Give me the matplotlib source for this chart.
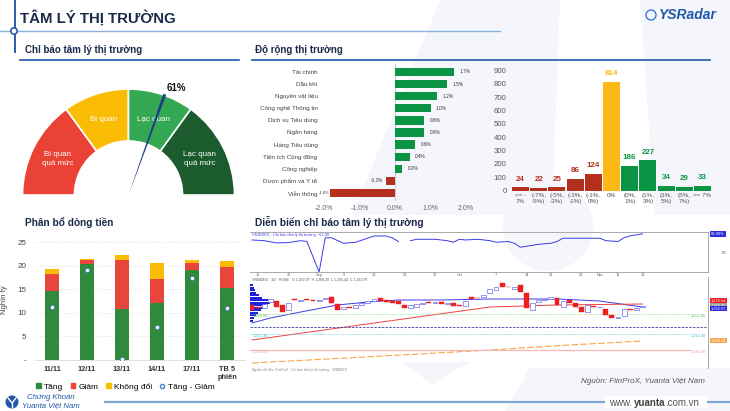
import matplotlib
matplotlib.use('Agg')
import matplotlib.pyplot as plt
import numpy as np
from matplotlib.patches import Wedge, Polygon, Rectangle, Circle, Patch
from matplotlib.lines import Line2D
import matplotlib.transforms as mtrans

plt.rcParams['font.family'] = ['Liberation Sans', 'DejaVu Sans']

# ---------------- data ----------------
gauge_value = 61
gauge_bounds = [0, 30, 50, 70, 100]
gauge_labels = ['Bi quan\nquá mức', 'Bi quan', 'Lạc quan', 'Lạc quan\nquá mức']

sectors = ['Tài chính', 'Dầu khí', 'Nguyên vật liệu', 'Công nghệ Thông tin',
           'Dịch vụ Tiêu dùng', 'Ngân hàng', 'Hàng Tiêu dùng', 'Tiện ích Cộng đồng',
           'Công nghiệp', 'Dược phẩm và Y tế', 'Viễn thông']
sector_change = [1.66, 1.46, 1.18, 1.00, 0.82, 0.82, 0.57, 0.42, 0.20, -0.25, -1.83]
sector_ticks = [-2, -1, 0, 1, 2]
sector_ticklabels = ['-2.0%', '-1.0%', '0.0%', '1.0%', '2.0%']

hist_bins = ['<= -\n7%', '(-7%,\n-5%)', '(-5%,\n-3%)', '(-3%,\n-1%)', '(-1%,\n0%)', '0%',
             '(0%,\n1%)', '(1%,\n3%)', '(3%,\n5%)', '(5%,\n7%)', '>= 7%']
hist_counts = [24, 22, 25, 86, 124, 814, 186, 227, 34, 29, 33]
hist_ticks = [0, 100, 200, 300, 400, 500, 600, 700, 800, 900]

sessions = ['11/11', '12/11', '13/11', '14/11', '17/11', 'TB 5\nphiên']
flow_up = [14.6, 20.3, 10.8, 12.1, 19.1, 15.3]
flow_down = [3.7, 1.0, 10.4, 5.1, 1.4, 4.4]
flow_flat = [1.0, 0.2, 1.2, 3.3, 0.7, 1.3]
flow_net = [11.2, 19.2, 0.3, 7.1, 17.4, 11.1]
flow_ticks = [0, 5, 10, 15, 20, 25]
flow_ticklabels = ['-', '5', '10', '15', '20', '25']

# sentiment indicator history (session index, value)
senti_t = [0, 2, 4, 6, 8, 9, 11, 12, 13, 15, 17, 20, 22, 23, 24, 25, 26, 27, 30, 32, 33, 34, 35,
           37, 39, 40, 42, 43, 44, 47, 49, 50, 51, 54, 57, 58, 60, 61, 62, 64]
senti_v = [57.5, 57.1, 55.8, 56.0, 57.1, 56.6, 39.0, 58.7, 58.8, 55.6, 56.2, 59.8, 59.8, 58.7, 56.6,
           np.nan, 57.1, 57.9, 57.9, 57.1, 56.2, 57.9, 57.5, 57.9, 57.1, 56.2, 56.6, 55.6, 53.3,
           55.0, 55.6, 56.6, 58.5, 58.5, 58.5, 57.1, 56.6, 58.8, 59.9, 61.0]
senti_dates = ['15', '22', 'Sep', '9', '16', '23', '30', 'Oct', '7', '14', '21', '28', 'Nov', '11', '18']
senti_date_t = [1, 6, 11, 15, 20, 25, 30, 34, 40, 45, 49, 54, 57, 60, 64]

# VN-Index candles
candle_open = [1270, 1266, 1264, 1276, 1278, 1270, 1260, 1281, 1279, 1281, 1280, 1279, 1281, 1286,
               1272, 1262, 1267, 1264, 1270, 1274, 1278, 1284, 1280, 1278, 1278, 1270, 1264, 1266,
               1272, 1276, 1274, 1276, 1272, 1274, 1270, 1268, 1286, 1284, 1286, 1294, 1300, 1314,
               1306, 1302, 1310, 1294, 1260, 1276, 1280, 1282, 1284, 1266, 1280, 1274, 1266, 1256,
               1268, 1266, 1262, 1250, 1244, 1248, 1262, 1260, 1266]
candle_close = [1260, 1264, 1272, 1282, 1266, 1256, 1274, 1279, 1281, 1279, 1279, 1281, 1283, 1274,
                1260, 1266, 1265, 1270, 1274, 1278, 1282, 1278, 1276, 1275, 1272, 1264, 1270, 1272,
                1274, 1274, 1276, 1272, 1274, 1268, 1268, 1278, 1282, 1283, 1290, 1302, 1306, 1306,
                1305, 1306, 1296, 1264, 1274, 1280, 1282, 1286, 1270, 1278, 1274, 1266, 1256, 1270,
                1266, 1267, 1250, 1244, 1246, 1262, 1261, 1264, 1268]
ma_blue_t = [0, 3, 8, 14, 19, 24, 31, 39, 50, 57, 64]
ma_blue_v = [1234, 1244, 1256, 1270, 1276, 1280, 1280, 1282, 1282, 1278, 1266]
ma_red_t = [0, 13, 26, 39, 50, 64]
ma_red_v = [1200, 1222, 1244, 1266, 1270, 1272]
ma_orange_t = [0, 20, 39, 52, 64]
ma_orange_v = [1154, 1167, 1180, 1190, 1198]
level_green, level_navy, level_cyan, level_pink = 1252, 1226, 1212, 1180
profile_levels = [1310, 1304, 1300, 1294, 1290, 1284, 1280, 1274, 1270, 1264, 1260, 1254, 1250, 1244, 1238]
profile_volume = [0.4, 0.6, 0.8, 1.0, 1.4, 2.0, 3.0, 3.3, 2.6, 2.2, 1.8, 1.2, 1.0, 0.6, 0.4]

# ---------------- figure ----------------
W, H = 730, 411
fig = plt.figure(figsize=(7.3, 4.11), dpi=100)
fig.patch.set_facecolor('white')


def box(x0, y0, x1, y1):
    return [x0 / W, 1 - y1 / H, (x1 - x0) / W, (y1 - y0) / H]


def ftxt(x, y, s, **kw):
    return fig.text(x / W, 1 - y / H, s, **kw)


NAVY = '#1B2A4A'
BLUE = '#1F58A8'

# decoration layer
deco = fig.add_axes([0, 0, 1, 1])
deco.set_xlim(0, W)
deco.set_ylim(H, 0)
deco.axis('off')
light = '#F4F6FB'
deco.add_patch(Polygon([(352, 215), (440, 0), (560, 0), (552, 215)], closed=True, fc=light, ec='none'))
deco.add_patch(Polygon([(640, 0), (730, 0), (730, 215), (655, 215)], closed=True, fc=light, ec='none'))
deco.add_patch(Circle((548, 226), 45, fc=light, ec='none'))
deco.add_patch(Polygon([(400, 362), (432, 384), (470, 362)], closed=True, fc=light, ec='none'))
deco.add_patch(Polygon([(505, 411), (530, 368), (730, 368), (730, 411)], closed=True, fc=light, ec='none'))
# header lines
deco.plot([15, 15], [0, 52], color='#2A5CA8', lw=1.4)
deco.plot([0, 500], [31, 31], color='#8DB1DD', lw=1.0)
deco.add_patch(Circle((14, 31), 3.2, fc='white', ec='#2A5CA8', lw=1.2, zorder=5))
deco.plot([20, 239], [59.7, 59.7], color=BLUE, lw=1.2)
deco.plot([252, 710], [59.7, 59.7], color=BLUE, lw=1.2)
# footer lines
deco.plot([105, 730], [401.7, 401.7], color='#7FA8D8', lw=1.6)
deco.add_patch(Rectangle((605, 396), 102, 12, fc='white', ec='none', zorder=3))
deco.add_patch(Circle((12, 402), 6.5, fc='#2159A8', ec='none'))
deco.plot([8, 12, 16], [398, 403, 398], color='white', lw=1.0)
deco.plot([12, 12], [403, 407], color='white', lw=1.0)
deco.add_patch(Circle((651, 15), 5, fc='none', ec='#3A7BD5', lw=1.0))

# texts
ftxt(20, 18, 'TÂM LÝ THỊ TRƯỜNG', fontsize=10.8, fontweight='bold', color=NAVY, va='center')
ftxt(659, 15, 'YSRadar', fontsize=10, fontweight='bold', style='italic', color=BLUE, va='center')
ftxt(25, 50, 'Chỉ báo tâm lý thị trường', fontsize=7, fontweight='bold', color=NAVY, va='center')
ftxt(255, 50, 'Độ rộng thị trường', fontsize=7, fontweight='bold', color=NAVY, va='center')
ftxt(25, 222, 'Phân bổ dòng tiền', fontsize=7.3, fontweight='bold', color=NAVY, va='center')
ftxt(255, 222, 'Diễn biến chỉ báo tâm lý thị trường', fontsize=7.3, fontweight='bold', color=NAVY, va='center')
ftxt(705, 381, 'Nguồn: FiinProX, Yuanta Việt Nam', fontsize=5.8, style='italic', color='#555555',
     ha='right', va='center')
ftxt(609, 402.5, 'www.', fontsize=7, color='#555555', va='center', zorder=6)
ftxt(634, 402.5, 'yuanta', fontsize=7, fontweight='bold', color='#444444', va='center', zorder=6)
ftxt(665, 402.5, '.com.vn', fontsize=7, color='#555555', va='center', zorder=6)
ftxt(27, 397, 'Chứng Khoán', fontsize=5.6, style='italic', color=BLUE, va='center')
ftxt(22, 405.5, 'Yuanta Việt Nam', fontsize=5.6, style='italic', color=BLUE, va='center')

# ---------------- gauge ----------------
gauge_colors = ['#EA4335', '#FBBC04', '#34A853', '#1C5B2E']
axg = fig.add_axes(box(15, 60, 245, 210))
axg.set_xlim(-1.0708, 1.099)
axg.set_ylim(-0.1415, 1.2736)
axg.axis('off')
for i, lab in enumerate(gauge_labels):
    a1 = 180 - gauge_bounds[i + 1] * 1.8
    a2 = 180 - gauge_bounds[i] * 1.8
    axg.add_patch(Wedge((0, 0), 1.0, a1, a2, width=0.49, facecolor=gauge_colors[i],
                        edgecolor='white', lw=1.2))
    am = np.deg2rad((a1 + a2) / 2)
    axg.text(0.75 * np.cos(am), 0.75 * np.sin(am), lab, ha='center', va='center',
             color='white', fontsize=5.8, linespacing=1.35)
ang = np.deg2rad(180 - gauge_value * 1.8)
tip = np.array([np.cos(ang), np.sin(ang)]) * 1.01
perp = np.array([-np.sin(ang), np.cos(ang)]) * 0.014
axg.add_patch(Polygon([[0, 0], tip + perp, tip - perp], closed=True, facecolor='#1F3C88',
                      edgecolor='none', zorder=5))
axg.text(tip[0] + 0.015, tip[1] + 0.06, f'{gauge_value}%', ha='left', va='center',
         fontsize=7, fontweight='bold', color='#111111')

# ---------------- sector breadth ----------------
GREEN = '#0A9444'
RED = '#B2301D'
YEL = '#FBB817'
axs = fig.add_axes(box(320, 64, 480, 201))
axs.set_facecolor('none')
ys = np.arange(len(sectors))
scol = [GREEN if v >= 0 else RED for v in sector_change]
axs.barh(ys, sector_change, height=0.69, color=scol)
axs.axvline(0, color='#cfcfcf', lw=0.8, zorder=0)
axs.set_xlim(-2.113, 2.394)
axs.set_ylim(10.66, -0.66)
for i, v in enumerate(sector_change):
    lab = f'{v:.1f}%'
    if v >= 0:
        axs.text(v + 0.15, i, lab, ha='left', va='center', fontsize=3.4, color='#333333')
    elif v > -1.5:
        axs.text(v - 0.1, i, lab, ha='right', va='center', fontsize=3.4, color='#333333')
    else:
        axs.text(v - 0.02, i, lab, ha='right', va='center', fontsize=2.9, color='#333333')
axs.set_yticks(ys)
axs.set_yticklabels(sectors, fontsize=4.5, color='#444444')
axs.set_xticks(sector_ticks)
axs.set_xticklabels(sector_ticklabels, fontsize=5, color='#666666')
axs.tick_params(length=0, pad=1.8)
axs.tick_params(axis='x', pad=3)
for sp in axs.spines.values():
    sp.set_visible(False)

# ---------------- histogram ----------------
axh = fig.add_axes(box(511.4, 66, 711.6, 190.7))
axh.set_facecolor('none')
xh = np.arange(len(hist_bins))
hcol = [RED] * 5 + [YEL] + [GREEN] * 5
axh.bar(xh, hist_counts, width=0.94, color=hcol)
for i, v in enumerate(hist_counts):
    axh.text(i, v + 62, str(v), ha='center', va='center', fontsize=5.8, fontweight='bold', color=hcol[i])
axh.set_xlim(-0.5, 10.5)
axh.set_ylim(0, 932)
axh.set_yticks(hist_ticks)
axh.set_yticklabels([str(t) for t in hist_ticks], fontsize=5.6, color='#555555')
axh.set_xticks(xh)
axh.set_xticklabels(hist_bins, fontsize=4.5, color='#555555', linespacing=1.1)
axh.tick_params(length=0, pad=3.5)
axh.tick_params(axis='x', pad=2)
for sp in axh.spines.values():
    sp.set_visible(False)

# ---------------- money flow ----------------
C_UP, C_DN, C_FL = '#2F8A3B', '#E8453C', '#FBBC05'
axf = fig.add_axes(box(34.5, 242.3, 244.5, 360))
axf.set_facecolor('none')
xf = np.arange(len(sessions))
up = np.array(flow_up)
dn = np.array(flow_down)
fl = np.array(flow_flat)
axf.bar(xf, up, 0.42, color=C_UP, zorder=2)
axf.bar(xf, dn, 0.42, bottom=up, color=C_DN, zorder=2)
axf.bar(xf, fl, 0.42, bottom=up + dn, color=C_FL, zorder=2)
axf.plot(xf, flow_net, 'o', ms=3, mfc='white', mec='#4A7CC9', mew=0.6, ls='none', zorder=3)
axf.set_xlim(-0.5, 5.5)
axf.set_ylim(0, 25)
axf.set_yticks(flow_ticks)
axf.set_yticklabels(flow_ticklabels, fontsize=5.8, color='#444444')
axf.set_xticks(xf)
axf.set_xticklabels(sessions, fontsize=5.3, fontweight='bold', color='#333333', linespacing=1.3)
axf.tick_params(length=0)
axf.tick_params(axis='y', pad=6)
axf.tick_params(axis='x', pad=4)
axf.yaxis.grid(True, ls=':', color='#dddddd', lw=0.6, zorder=0)
for k, sp in axf.spines.items():
    sp.set_visible(k == 'bottom')
axf.spines['bottom'].set_color('#d9d9d9')
axf.spines['bottom'].set_linewidth(0.6)
ftxt(5, 300, 'Nghìn tỷ', fontsize=5.5, color='#444444', rotation=90, ha='center', va='center')
handles = [Patch(color=C_UP, label='Tăng'), Patch(color=C_DN, label='Giảm'),
           Patch(color=C_FL, label='Không đổi'),
           Line2D([], [], marker='o', ls='none', mfc='white', mec='#4A7CC9', ms=3, label='Tăng - Giảm')]
fig.legend(handles=handles, loc='center left', bbox_to_anchor=(36 / W, 1 - 387 / H), ncol=4,
           frameon=False, fontsize=6, handlelength=0.55, handleheight=0.55, handletextpad=0.4,
           columnspacing=0.9, borderaxespad=0, borderpad=0)

# ---------------- sentiment history ----------------
XL = (-0.33, 74.75)
axt = fig.add_axes(box(250, 232, 708, 272))
axt.set_facecolor('none')
axt.plot(senti_t, senti_v, color='#3A3AE8', lw=0.7)
axt.set_xlim(*XL)
axt.set_ylim(39, 62.1)
axt.set_yticks([])
axt.set_xticks(senti_date_t)
axt.set_xticklabels(senti_dates, fontsize=2.8, color='#666666')
axt.tick_params(length=0, pad=0.8)
axt.spines['left'].set_visible(False)
for k in ['top', 'bottom', 'right']:
    axt.spines[k].set_color('#aaaaaa')
    axt.spines[k].set_linewidth(0.7)
axt.text(0.005, 0.985, 'VNINDEX · Chỉ báo tâm lý thị trường · 61.00', transform=axt.transAxes,
         fontsize=2.8, color='#3A3AE8', va='top')
trt = mtrans.blended_transform_factory(axt.transAxes, axt.transData)
axt.text(1.006, senti_v[-1], f'{senti_v[-1]:.2f}%', transform=trt, fontsize=3, color='white',
         va='center', ha='left', bbox=dict(boxstyle='square,pad=0.25', fc='#2B2BE0', ec='none'))
axt.text(1.03, 50, '50', transform=trt, fontsize=3, color='#444444', va='center', ha='left')

axc = fig.add_axes(box(250, 277, 708, 368))
axc.set_facecolor('none')
axc.set_xlim(*XL)
axc.set_ylim(1144, 1326)
axc.barh(profile_levels, profile_volume, left=-0.3, height=5.5, color='#1E22E0', zorder=1)
o = np.array(candle_open)
c = np.array(candle_close)
tc = np.arange(len(o))
isup = c >= o
axc.bar(tc[isup], (c - o)[isup], bottom=o[isup], width=0.8, facecolor='white',
        edgecolor='#6A6AE6', lw=0.5, zorder=3)
axc.bar(tc[~isup], (c - o)[~isup], bottom=o[~isup], width=0.8, facecolor='#F01E1E',
        edgecolor='#F01E1E', lw=0.3, zorder=3)
axc.plot(ma_blue_t, ma_blue_v, color='#3A3AE8', lw=0.7, zorder=2)
axc.plot(ma_red_t, ma_red_v, color='#F04040', lw=0.7, zorder=2)
axc.plot(ma_orange_t, ma_orange_v, color='#F7A54A', lw=0.8, ls=(0, (6, 2)), zorder=2)
axc.axhline(level_green, xmax=0.96, color='#6CD66C', lw=0.6, ls=':')
axc.axhline(level_navy, color='#4040A0', lw=0.6, ls=(0, (3, 1.5)))
axc.axhline(level_cyan, xmax=0.96, color='#3CCFD6', lw=0.6, ls=':')
axc.axhline(level_pink, xmax=0.96, color='#F5B8B8', lw=0.9)
axc.set_xticks([])
axc.set_yticks([])
for k, sp in axc.spines.items():
    sp.set_visible(k == 'right')
axc.spines['right'].set_color('#aaaaaa')
axc.spines['right'].set_linewidth(0.7)
axc.text(0.005, 0.995, 'VNINDEX · 1D · HOSE   O 1,262.97  H 1,268.20  L 1,255.44  C 1,262.97',
         transform=axc.transAxes, fontsize=2.6, color='#555555', va='top')
axc.text(0.005, -0.005, 'Nguồn dữ liệu: FiinProX · Chỉ báo tâm lý thị trường · VNINDEX',
         transform=axc.transAxes, fontsize=2.4, color='#888888', va='top')
trc = mtrans.blended_transform_factory(axc.transAxes, axc.transData)
for lvl, col, s in [(1278, '#F01E1E', '1,276.54'), (1269, '#999999', '1,268.20'),
                    (1263, '#2B2BE0', '1,262.97'), (1199, '#F7A54A', '1,198.44')]:
    axc.text(1.006, lvl, s, transform=trc, fontsize=2.8, color='white', va='center', ha='left',
             bbox=dict(boxstyle='square,pad=0.25', fc=col, ec='none'))
for lvl, col, s in [(level_green, '#4CC04C', '1,252.00'), (level_cyan, '#2FBFC6', '1,212.30'),
                    (level_pink, '#F0A0A0', '1,180.00')]:
    axc.text(0.995, lvl - 3, s, transform=trc, fontsize=2.8, color=col, va='center', ha='right')
    axc.text(0.005, lvl - 3, s, transform=trc, fontsize=2.8, color=col, va='center', ha='left')

fig.savefig('out.png', dpi=100, facecolor='white')
